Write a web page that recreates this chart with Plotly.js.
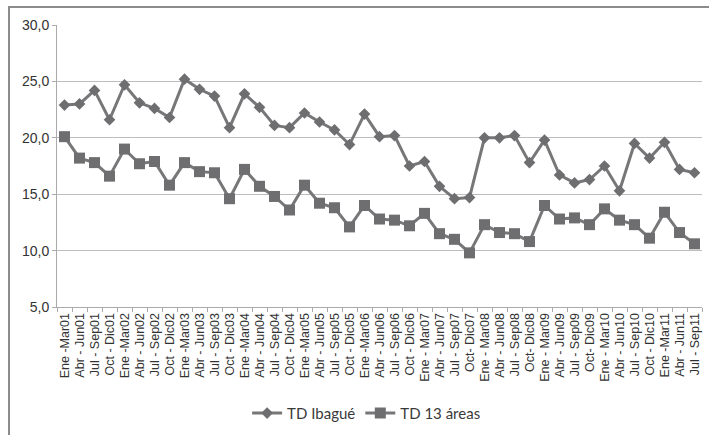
<!DOCTYPE html>
<html>
<head>
<meta charset="utf-8">
<script src="https://cdn.plot.ly/plotly-3.0.1.min.js"></script>
<style>
  html, body { margin: 0; padding: 0; background: #fff; }
  #wrap { position: relative; width: 709px; height: 435px; overflow: hidden; }
  #chart { width: 709px; height: 435px; }
  #frame { position: absolute; left: 8px; top: 6px; width: 800px; height: 600px;
           border-top: 2px solid #8c8c8c; border-left: 2px solid #8c8c8c; pointer-events: none; }
</style>
</head>
<body>
<div id="wrap">
  <div id="chart"></div>
  <div id="frame"></div>
</div>
<script>
const periods = [
  "Ene -Mar01","Abr - Jun01","Jul - Sep01","Oct - Dic01",
  "Ene -Mar02","Abr - Jun02","Jul - Sep02","Oct - Dic02",
  "Ene -Mar03","Abr - Jun03","Jul - Sep03","Oct - Dic03",
  "Ene -Mar04","Abr - Jun04","Jul - Sep04","Oct - Dic04",
  "Ene -Mar05","Abr - Jun05","Jul - Sep05","Oct - Dic05",
  "Ene -Mar06","Abr - Jun06","Jul - Sep06","Oct - Dic06",
  "Ene - Mar07","Abr - Jun07","Jul - Sep07","Oct- Dic07",
  "Ene - Mar08","Abr - Jun08","Jul - Sep08","Oct- Dic08",
  "Ene - Mar09","Abr - Jun09","Jul - Sep09","Oct- Dic09",
  "Ene - Mar10","Abr - Jun10","Jul - Sep10","Oct - Dic10",
  "Ene -Mar11","Abr - Jun11","Jul - Sep11"
];

const tdIbague = [22.9, 23.0, 24.2, 21.6, 24.7, 23.1, 22.6, 21.8, 25.2, 24.3, 23.7, 20.9,
  23.9, 22.7, 21.1, 20.9, 22.2, 21.4, 20.7, 19.4, 22.1, 20.1, 20.2, 17.5, 17.9, 15.7, 14.6,
  14.7, 20.0, 20.0, 20.2, 17.8, 19.8, 16.7, 16.0, 16.3, 17.5, 15.3, 19.5, 18.2, 19.6, 17.2, 16.9];

const td13Areas = [20.1, 18.2, 17.8, 16.6, 19.0, 17.7, 17.9, 15.8, 17.8, 17.0, 16.9, 14.6,
  17.2, 15.7, 14.8, 13.6, 15.8, 14.2, 13.8, 12.1, 14.0, 12.8, 12.7, 12.2, 13.3, 11.5, 11.0,
  9.8, 12.3, 11.6, 11.5, 10.8, 14.0, 12.8, 12.9, 12.3, 13.7, 12.7, 12.3, 11.1, 13.4, 11.6, 10.6];

const yTicks = [5, 10, 15, 20, 25, 30];

const lineCol = '#777779';
const markCol = '#6e6e71';

const traces = [
  {
    x: periods, y: tdIbague, name: 'TD Ibagué', type: 'scatter', mode: 'lines+markers',
    line: { color: lineCol, width: 3 },
    marker: { symbol: 'diamond', size: 9, color: markCol }
  },
  {
    x: periods, y: td13Areas, name: 'TD 13 áreas', type: 'scatter', mode: 'lines+markers',
    line: { color: lineCol, width: 3 },
    marker: { symbol: 'square', size: 11, color: markCol }
  }
];

const layout = {
  width: 709, height: 435,
  margin: { l: 57, r: 7, t: 25, b: 127 },
  paper_bgcolor: '#fff', plot_bgcolor: '#fff',
  separators: ',.',
  showlegend: true,
  legend: {
    orientation: 'h', x: 0.48, xanchor: 'center', y: -0.372, yanchor: 'middle',
    font: { family: 'Lato, "Open Sans", sans-serif', size: 15, color: '#3a3a3a' },
    itemwidth: 30, tracegroupgap: 0
  },
  xaxis: {
    type: 'category',
    tickangle: -90,
    tickfont: { family: 'Liberation Sans, Arial, sans-serif', size: 12.5, color: '#333' },
    ticks: 'outside', ticklen: 4, tickcolor: '#aaa', tickson: 'boundaries',
    showline: true, linecolor: '#aaa', linewidth: 1,
    showgrid: false, zeroline: false,
    range: [-0.5, periods.length - 0.5]
  },
  yaxis: {
    range: [5, 30],
    tickvals: yTicks,
    tickformat: '.1f',
    tickfont: { family: 'Liberation Sans, Arial, sans-serif', size: 14, color: '#333' },
    ticks: 'outside', ticklen: 4, tickcolor: '#aaa',
    showline: true, linecolor: '#aaa', linewidth: 1,
    showgrid: true, gridcolor: '#bdbdbd', gridwidth: 1,
    zeroline: false
  }
};

Plotly.newPlot('chart', traces, layout, { displayModeBar: false, staticPlot: true });
</script>
</body>
</html>
